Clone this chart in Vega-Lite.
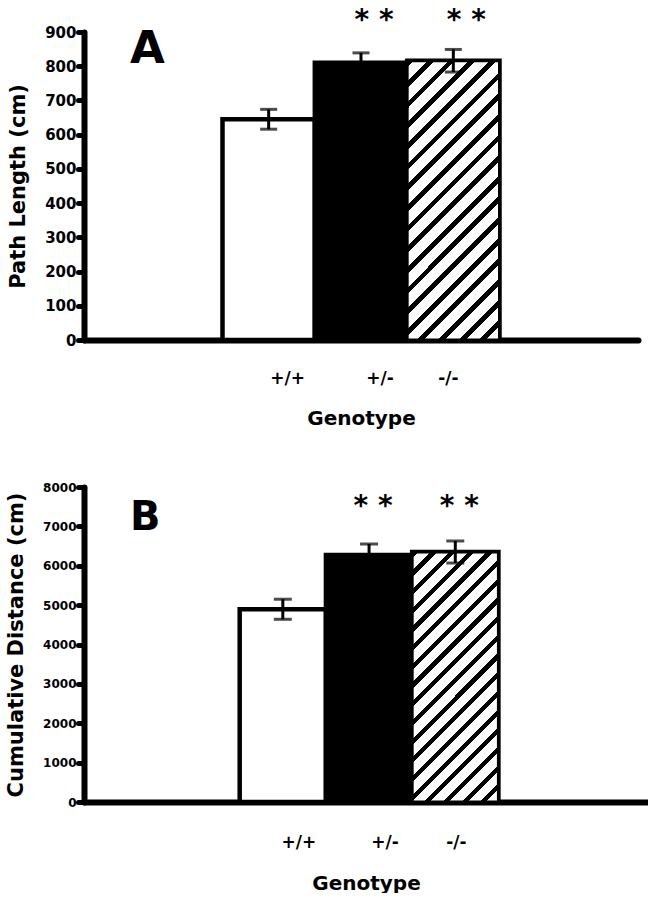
{
  "$schema": "https://vega.github.io/schema/vega-lite/v6.json",
  "background": "white",
  "padding": {"left": 5, "top": 6, "right": 0, "bottom": 0},
  "config": {
    "font": "DejaVu Sans",
    "view": {"stroke": null},
    "axis": {"domainColor": "black", "domainWidth": 6, "domainCap": "round", "tickColor": "black", "labelColor": "black", "titleColor": "black", "labelFontWeight": "bold", "titleFontWeight": "bold", "grid": false, "labelFont": "DejaVu Sans", "titleFont": "DejaVu Sans"},
    "title": {"font": "DejaVu Sans", "fontWeight": "bold", "color": "black"}
  },
  "datasets": {
    "pathLength": [
      {"genotype": "+/+", "mean": 645, "sem": 29, "sig": ""},
      {"genotype": "+/-", "mean": 810, "sem": 29, "sig": "* *"},
      {"genotype": "-/-", "mean": 816, "sem": 33, "sig": "* *"}
    ],
    "cumulativeDistance": [
      {"genotype": "+/+", "mean": 4895, "sem": 255, "sig": ""},
      {"genotype": "+/-", "mean": 6273, "sem": 279, "sig": "* *"},
      {"genotype": "-/-", "mean": 6349, "sem": 280, "sig": "* *"}
    ]
  },
  "spacing": 53,
  "vconcat": [
    {
      "data": {"name": "pathLength"},
      "width": 554,
      "height": 308,
      "title": {"text": "A", "fontSize": 45, "anchor": "start", "frame": "group", "baseline": "top", "offset": -65, "dx": 46},
      "encoding": {
        "x": {"field": "genotype", "type": "nominal",
          "scale": {"domain": [" ", "+/+", "+/-", "-/-", "  "], "paddingInner": 0, "paddingOuter": 0.5, "align": 0.5},
          "axis": {"title": "Genotype", "labelAngle": 0, "ticks": false, "labelFontSize": 17, "labelPadding": 30, "titleFontSize": 20, "titlePadding": 22,
            "labelOffset": {"condition": {"test": "datum.value === '-/-'", "value": -5}, "value": 19}}},
        "y": {"field": "mean", "type": "quantitative", "scale": {"domain": [0, 900], "nice": false},
          "axis": {"title": "Path Length (cm)", "format": "d", "values": [0, 100, 200, 300, 400, 500, 600, 700, 800, 900], "tickSize": 6, "tickWidth": 5, "tickCap": "round", "labelFontSize": 15, "labelPadding": 2, "titleFontSize": 21, "titlePadding": 16}}
      },
      "layer": [
        {
          "mark": {"type": "bar", "stroke": "black", "strokeWidth": 4.5},
          "encoding": {
            "fill": {"condition": {"test": "datum.genotype === '+/-'", "value": "black"}, "value": "white"}
          }
        },
        {
          "transform": [{"filter": "datum.genotype === '-/-'"}],
          "mark": {"type": "bar", "stroke": "black", "strokeWidth": 3,
            "fill": {"gradient": "linear", "x1": 0, "y1": 0, "x2": 0.3968, "y2": 1.1995, "stops": [
              {"offset": 0, "color": "black"}, {"offset": 0.0183, "color": "black"}, {"offset": 0.0183, "color": "white"}, {"offset": 0.0556, "color": "white"},
              {"offset": 0.0556, "color": "black"}, {"offset": 0.0739, "color": "black"}, {"offset": 0.0739, "color": "white"}, {"offset": 0.1111, "color": "white"},
              {"offset": 0.1111, "color": "black"}, {"offset": 0.1294, "color": "black"}, {"offset": 0.1294, "color": "white"}, {"offset": 0.1667, "color": "white"},
              {"offset": 0.1667, "color": "black"}, {"offset": 0.1850, "color": "black"}, {"offset": 0.1850, "color": "white"}, {"offset": 0.2222, "color": "white"},
              {"offset": 0.2222, "color": "black"}, {"offset": 0.2406, "color": "black"}, {"offset": 0.2406, "color": "white"}, {"offset": 0.2778, "color": "white"},
              {"offset": 0.2778, "color": "black"}, {"offset": 0.2961, "color": "black"}, {"offset": 0.2961, "color": "white"}, {"offset": 0.3333, "color": "white"},
              {"offset": 0.3333, "color": "black"}, {"offset": 0.3517, "color": "black"}, {"offset": 0.3517, "color": "white"}, {"offset": 0.3889, "color": "white"},
              {"offset": 0.3889, "color": "black"}, {"offset": 0.4072, "color": "black"}, {"offset": 0.4072, "color": "white"}, {"offset": 0.4444, "color": "white"},
              {"offset": 0.4444, "color": "black"}, {"offset": 0.4628, "color": "black"}, {"offset": 0.4628, "color": "white"}, {"offset": 0.5000, "color": "white"},
              {"offset": 0.5000, "color": "black"}, {"offset": 0.5183, "color": "black"}, {"offset": 0.5183, "color": "white"}, {"offset": 0.5556, "color": "white"},
              {"offset": 0.5556, "color": "black"}, {"offset": 0.5739, "color": "black"}, {"offset": 0.5739, "color": "white"}, {"offset": 0.6111, "color": "white"},
              {"offset": 0.6111, "color": "black"}, {"offset": 0.6294, "color": "black"}, {"offset": 0.6294, "color": "white"}, {"offset": 0.6667, "color": "white"},
              {"offset": 0.6667, "color": "black"}, {"offset": 0.6850, "color": "black"}, {"offset": 0.6850, "color": "white"}, {"offset": 0.7222, "color": "white"},
              {"offset": 0.7222, "color": "black"}, {"offset": 0.7406, "color": "black"}, {"offset": 0.7406, "color": "white"}, {"offset": 0.7778, "color": "white"},
              {"offset": 0.7778, "color": "black"}, {"offset": 0.7961, "color": "black"}, {"offset": 0.7961, "color": "white"}, {"offset": 0.8333, "color": "white"},
              {"offset": 0.8333, "color": "black"}, {"offset": 0.8517, "color": "black"}, {"offset": 0.8517, "color": "white"}, {"offset": 0.8889, "color": "white"},
              {"offset": 0.8889, "color": "black"}, {"offset": 0.9072, "color": "black"}, {"offset": 0.9072, "color": "white"}, {"offset": 0.9444, "color": "white"},
              {"offset": 0.9444, "color": "black"}, {"offset": 0.9628, "color": "black"}, {"offset": 0.9628, "color": "white"}, {"offset": 1, "color": "white"}
            ]}}
        },
        {
          "mark": {"type": "errorbar", "thickness": 3, "color": "black", "ticks": {"size": 17, "thickness": 3, "color": "black"}},
          "encoding": {"yError": {"field": "sem"}}
        },
        {
          "mark": {"type": "text", "fontSize": 28, "fontWeight": "bold", "baseline": "alphabetic", "dx": 13, "color": "black"},
          "encoding": {"y": {"datum": 910}, "text": {"field": "sig"}}
        }
      ]
    },
    {
      "data": {"name": "cumulativeDistance"},
      "width": 564,
      "height": 315,
      "title": {"text": "B", "fontSize": 40, "anchor": "start", "frame": "group", "baseline": "top", "offset": -57, "dx": 46},
      "encoding": {
        "x": {"field": "genotype", "type": "nominal",
          "scale": {"domain": [" ", "+/+", "+/-", "-/-", "  "], "paddingInner": 0, "paddingOuter": 0.77, "align": 0.523},
          "axis": {"title": "Genotype", "labelAngle": 0, "ticks": false, "labelFontSize": 17, "labelPadding": 32, "titleFontSize": 20, "titlePadding": 23,
            "labelOffset": {"condition": {"test": "datum.value === '-/-'", "value": 1}, "value": 16}}},
        "y": {"field": "mean", "type": "quantitative", "scale": {"domain": [0, 8000], "nice": false},
          "axis": {"title": "Cumulative Distance (cm)", "format": "d", "values": [0, 1000, 2000, 3000, 4000, 5000, 6000, 7000, 8000], "tickSize": 6, "tickWidth": 5, "tickCap": "round", "labelFontSize": 12, "labelPadding": 2, "titleFontSize": 21, "titlePadding": 16}}
      },
      "layer": [
        {
          "mark": {"type": "bar", "stroke": "black", "strokeWidth": 4.5},
          "encoding": {
            "fill": {"condition": {"test": "datum.genotype === '+/-'", "value": "black"}, "value": "white"}
          }
        },
        {
          "transform": [{"filter": "datum.genotype === '-/-'"}],
          "mark": {"type": "bar", "stroke": "black", "strokeWidth": 3,
            "fill": {"gradient": "linear", "x1": 0, "y1": 0, "x2": 0.4149, "y2": 1.2020, "stops": [
              {"offset": 0, "color": "black"}, {"offset": 0.0183, "color": "black"}, {"offset": 0.0183, "color": "white"}, {"offset": 0.0556, "color": "white"},
              {"offset": 0.0556, "color": "black"}, {"offset": 0.0739, "color": "black"}, {"offset": 0.0739, "color": "white"}, {"offset": 0.1111, "color": "white"},
              {"offset": 0.1111, "color": "black"}, {"offset": 0.1294, "color": "black"}, {"offset": 0.1294, "color": "white"}, {"offset": 0.1667, "color": "white"},
              {"offset": 0.1667, "color": "black"}, {"offset": 0.1850, "color": "black"}, {"offset": 0.1850, "color": "white"}, {"offset": 0.2222, "color": "white"},
              {"offset": 0.2222, "color": "black"}, {"offset": 0.2406, "color": "black"}, {"offset": 0.2406, "color": "white"}, {"offset": 0.2778, "color": "white"},
              {"offset": 0.2778, "color": "black"}, {"offset": 0.2961, "color": "black"}, {"offset": 0.2961, "color": "white"}, {"offset": 0.3333, "color": "white"},
              {"offset": 0.3333, "color": "black"}, {"offset": 0.3517, "color": "black"}, {"offset": 0.3517, "color": "white"}, {"offset": 0.3889, "color": "white"},
              {"offset": 0.3889, "color": "black"}, {"offset": 0.4072, "color": "black"}, {"offset": 0.4072, "color": "white"}, {"offset": 0.4444, "color": "white"},
              {"offset": 0.4444, "color": "black"}, {"offset": 0.4628, "color": "black"}, {"offset": 0.4628, "color": "white"}, {"offset": 0.5000, "color": "white"},
              {"offset": 0.5000, "color": "black"}, {"offset": 0.5183, "color": "black"}, {"offset": 0.5183, "color": "white"}, {"offset": 0.5556, "color": "white"},
              {"offset": 0.5556, "color": "black"}, {"offset": 0.5739, "color": "black"}, {"offset": 0.5739, "color": "white"}, {"offset": 0.6111, "color": "white"},
              {"offset": 0.6111, "color": "black"}, {"offset": 0.6294, "color": "black"}, {"offset": 0.6294, "color": "white"}, {"offset": 0.6667, "color": "white"},
              {"offset": 0.6667, "color": "black"}, {"offset": 0.6850, "color": "black"}, {"offset": 0.6850, "color": "white"}, {"offset": 0.7222, "color": "white"},
              {"offset": 0.7222, "color": "black"}, {"offset": 0.7406, "color": "black"}, {"offset": 0.7406, "color": "white"}, {"offset": 0.7778, "color": "white"},
              {"offset": 0.7778, "color": "black"}, {"offset": 0.7961, "color": "black"}, {"offset": 0.7961, "color": "white"}, {"offset": 0.8333, "color": "white"},
              {"offset": 0.8333, "color": "black"}, {"offset": 0.8517, "color": "black"}, {"offset": 0.8517, "color": "white"}, {"offset": 0.8889, "color": "white"},
              {"offset": 0.8889, "color": "black"}, {"offset": 0.9072, "color": "black"}, {"offset": 0.9072, "color": "white"}, {"offset": 0.9444, "color": "white"},
              {"offset": 0.9444, "color": "black"}, {"offset": 0.9628, "color": "black"}, {"offset": 0.9628, "color": "white"}, {"offset": 1, "color": "white"}
            ]}}
        },
        {
          "mark": {"type": "errorbar", "thickness": 3, "color": "black", "ticks": {"size": 18, "thickness": 3, "color": "black"}},
          "encoding": {"yError": {"field": "sem"}}
        },
        {
          "mark": {"type": "text", "fontSize": 28, "fontWeight": "bold", "baseline": "alphabetic", "dx": 4, "color": "black"},
          "encoding": {"y": {"datum": 7290}, "text": {"field": "sig"}}
        }
      ]
    }
  ]
}
